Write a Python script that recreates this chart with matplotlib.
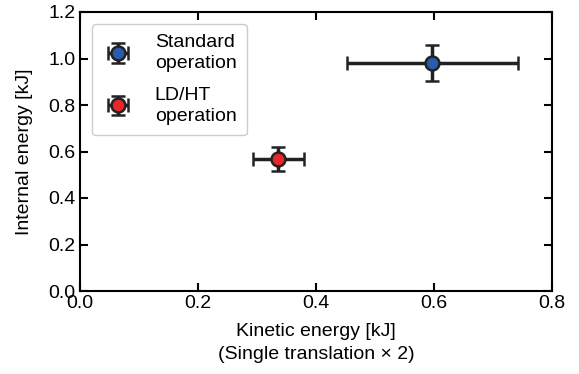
import matplotlib
matplotlib.use('Agg')
import matplotlib.pyplot as plt

plt.rcParams['font.family'] = ['Liberation Sans', 'DejaVu Sans']
plt.rcParams['font.size'] = 14

labels = ['Standard\noperation', 'LD/HT\noperation']
kinetic = [0.597, 0.336]
kinetic_err = [0.145, 0.043]
internal = [0.980, 0.568]
internal_err = [0.076, 0.052]
colors = ['#2b5cab', '#e8262c']

fig = plt.figure(figsize=(5.79, 3.74), dpi=100)
ax = fig.add_axes([80/579, 1-291/374, 472/579, 279/374])

for i in range(len(labels)):
    ax.errorbar(kinetic[i], internal[i], xerr=kinetic_err[i], yerr=internal_err[i],
                fmt='o', color='#222222', mfc=colors[i], mec='#222222', mew=1.8,
                ms=10, elinewidth=2.5, capsize=5, capthick=2, label=labels[i])

ax.set_xlim(0, 0.8)
ax.set_ylim(0, 1.2)
ax.set_xticks([0.0, 0.2, 0.4, 0.6, 0.8])
ax.set_yticks([0.0, 0.2, 0.4, 0.6, 0.8, 1.0, 1.2])
ax.tick_params(direction='in', top=True, right=True, length=6, width=1.5, labelsize=14, pad=3)
for s in ax.spines.values():
    s.set_linewidth(1.5)
ax.set_xlabel('Kinetic energy [kJ]\n(Single translation × 2)', fontsize=14, linespacing=1.45, labelpad=8)
ax.set_ylabel('Internal energy [kJ]', fontsize=14, labelpad=11)
leg = ax.legend(loc='upper left', fontsize=14, handletextpad=1.1, labelspacing=0.75,
                borderpad=0.55, handlelength=1.6, borderaxespad=0.6,
                edgecolor='#cccccc', framealpha=1)
for t in leg.get_texts():
    t.set_linespacing(1.3)

fig.savefig('out.png', dpi=100)
